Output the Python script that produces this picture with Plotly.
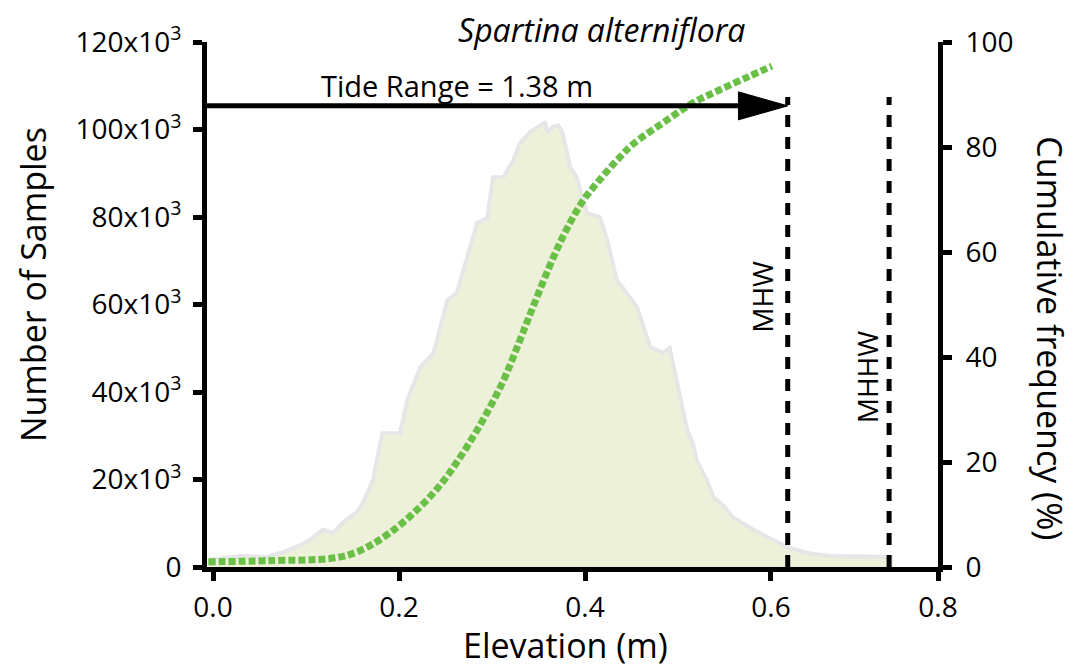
import plotly.graph_objects as go

# ---------------- data ----------------
# Histogram outline (elevation m, number of samples)
hist_x = [-0.005, 0.029, 0.058, 0.075, 0.094, 0.104, 0.118, 0.129, 0.140, 0.155,
          0.161, 0.169, 0.172, 0.182, 0.201, 0.209, 0.223, 0.237, 0.244, 0.252,
          0.262, 0.273, 0.284, 0.295, 0.301, 0.312, 0.323, 0.330, 0.341, 0.352,
          0.357, 0.360, 0.365, 0.371, 0.376, 0.384, 0.391, 0.402, 0.416, 0.424,
          0.434, 0.445, 0.456, 0.470, 0.484, 0.491, 0.502, 0.510, 0.516, 0.520,
          0.531, 0.538, 0.548, 0.559, 0.581, 0.602, 0.617, 0.639, 0.663, 0.731]
hist_y = [1600, 2500, 2300, 3400, 5000, 6200, 8500, 7800, 10300, 12600,
          14600, 18300, 19900, 30600, 30600, 38200, 45700, 48900, 54900, 61000,
          62600, 70900, 78600, 79800, 89100, 89100, 93000, 96900, 99400, 101000,
          101500, 99200, 100600, 101000, 99200, 91400, 89100, 80900, 80000, 74700,
          65600, 62600, 59400, 50300, 48900, 50100, 39800, 31300, 28300, 24500,
          19900, 16000, 14200, 11400, 8500, 6200, 4600, 3200, 2500, 2300]

# Cumulative frequency (%)
cum_x = [-0.005, 0.060, 0.129, 0.155, 0.190, 0.237, 0.273, 0.309, 0.330, 0.344,
         0.366, 0.381, 0.398, 0.416, 0.435, 0.452, 0.488, 0.516, 0.545, 0.577, 0.601]
cum_y = [1.0, 1.2, 1.7, 2.9, 6.5, 14.1, 22.9, 34.3, 43.2, 49.5,
         59.0, 64.6, 69.8, 73.8, 77.6, 80.6, 85.1, 88.4, 90.9, 93.5, 95.4]

# Tidal datums (m)
datum_names = ["MHW", "MHHW"]
datum_x = [0.618, 0.727]
datum_top = 107400
tide_label = "Tide Range = 1.38 m"
tide_arrow_y = 105400

x_range = [-0.0065, 0.7796]
x_tickvals = [0.0, 0.2, 0.4, 0.6, 0.7796]
x_ticktext = ["0.0", "0.2", "0.4", "0.6", "0.8"]
y_tickvals = [0, 20000, 40000, 60000, 80000, 100000, 120000]
y_ticktext = ["0", "20x10<sup>3</sup>", "40x10<sup>3</sup>", "60x10<sup>3</sup>",
              "80x10<sup>3</sup>", "100x10<sup>3</sup>", "120x10<sup>3</sup>"]
y2_tickvals = [0, 20, 40, 60, 80, 100]

FONT = "Open Sans"

fig = go.Figure()
fig.add_trace(go.Scatter(x=hist_x, y=hist_y, mode="lines", fill="tozeroy",
                         fillcolor="#EEF1D9", line=dict(color="#E6E6E6", width=4),
                         showlegend=False, hoverinfo="skip"))
fig.add_trace(go.Scatter(x=cum_x, y=cum_y, mode="lines", yaxis="y2",
                         line=dict(color="#6ABF47", width=7, dash="7px,3px", shape="spline"),
                         showlegend=False))

shapes = []
for dx in datum_x:
    shapes.append(dict(type="line", xref="x", yref="y", x0=dx, x1=dx, y0=0, y1=datum_top,
                       line=dict(color="black", width=5, dash="12px,10px"), layer="above"))
# tide range arrow
tip = datum_x[0]
head_len = 0.053
head_half = 3200
shapes.append(dict(type="line", xref="x", yref="y", x0=x_range[0], x1=tip - head_len * 0.5,
                   y0=tide_arrow_y, y1=tide_arrow_y, line=dict(color="black", width=5), layer="above"))
shapes.append(dict(type="path", xref="x", yref="y",
                   path=f"M {tip - head_len},{tide_arrow_y + head_half} L {tip},{tide_arrow_y} "
                        f"L {tip - head_len},{tide_arrow_y - head_half} Z",
                   fillcolor="black", line=dict(color="black", width=1), layer="above"))

def ann(text, **kw):
    d = dict(text=text, showarrow=False, xanchor="center", yanchor="middle")
    d.update(kw)
    return d

annotations = [
    ann("<i>Spartina alterniflora</i>", xref="x", yref="paper", x=0.418, y=1.0, yshift=13,
        font=dict(family=FONT, size=32, color="black")),
    ann(tide_label, xref="x", yref="y", x=0.262, y=tide_arrow_y, yshift=20,
        font=dict(family=FONT, size=29, color="black")),
    ann(datum_names[0], xref="x", yref="y", x=datum_x[0], xshift=-26, y=61700, textangle=-90,
        font=dict(family=FONT, size=28, color="black")),
    ann(datum_names[1], xref="x", yref="y", x=datum_x[1], xshift=-22, y=43400, textangle=-90,
        font=dict(family=FONT, size=28, color="black")),
    ann("Number of Samples", xref="paper", yref="paper", x=-0.238, y=0.537, textangle=-90,
        font=dict(family=FONT, size=34, color="black")),
    ann("Cumulative frequency (%)", xref="paper", yref="paper", x=1.153, y=0.436, textangle=90,
        font=dict(family=FONT, size=34, color="black")),
    ann("Elevation (m)", xref="paper", yref="paper", x=0.49, y=-0.1486,
        font=dict(family=FONT, size=34, color="black")),
]

axis_common = dict(showgrid=False, zeroline=False, showline=True, linecolor="black", linewidth=5,
                   ticks="outside", ticklen=9, tickwidth=5, tickcolor="black",
                   tickfont=dict(family=FONT, size=28, color="black"))

fig.update_layout(
    width=1071, height=661,
    margin=dict(l=199, r=141, t=34, b=102),
    paper_bgcolor="white", plot_bgcolor="white",
    xaxis=dict(range=x_range, tickvals=x_tickvals, ticktext=x_ticktext,
               ticklabelstandoff=2, **axis_common),
    yaxis=dict(range=[0, 120000], tickvals=y_tickvals, ticktext=y_ticktext,
               ticklabelstandoff=6, **axis_common),
    yaxis2=dict(range=[0, 100], tickvals=y2_tickvals, overlaying="y", side="right",
                ticklabelstandoff=8, **axis_common),
    shapes=shapes, annotations=annotations, showlegend=False,
)

fig.write_html("out.html")
